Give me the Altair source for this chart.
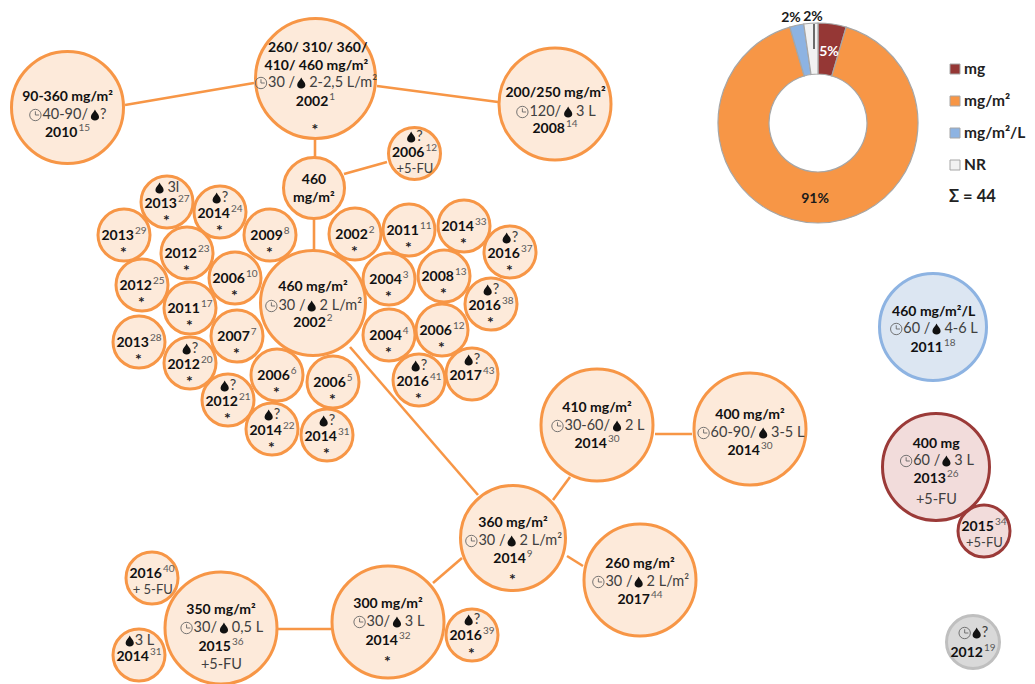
import altair as alt
import pandas as pd

FONT = "Lato"
ORANGE = ("#fdeada", "#f79646")
BLUE = ("#dce6f2", "#8db3e2")
RED = ("#f2dcdb", "#9b3a38")
GRAY = ("#d9d9d9", "#bfbfbf")
PALETTE = {"o": ORANGE, "b": BLUE, "r": RED, "g": GRAY}

# Large nodes: x, y, outer diameter, family, text lines, line heights
big_x = [67.5, 315.5, 555, 314, 414.5, 313, 597, 750, 513, 640, 221, 388, 152, 139, 472, 933, 936, 984, 973]
big_y = [107.5, 78.5, 104, 188, 153.5, 303, 425, 429, 538, 580, 628, 622, 578, 655, 635, 327, 467, 531, 642]
big_d = [115, 123, 115, 64, 55, 108, 115, 115, 108, 115, 115, 115, 55, 55, 55, 110, 110, 55, 56]
big_kind = ["o"] * 15 + ["b", "r", "r", "g"]
big_lines = [
    ["B 90-360 mg/m²", "D @40-90/ %?", "Y 2010 15"],
    ["B 260/ 310/ 360/", "B 410/ 460 mg/m²", "D @30 / % 2-2,5 L/m²", "Y 2002 1", "*"],
    ["B 200/250 mg/m²", "D @120/ % 3 L", "Y 2008 14"],
    ["B 460", "B mg/m²"],
    ["D %?", "Y 2006 12", "S +5-FU"],
    ["B 460 mg/m²", "D @30 / % 2 L/m²", "Y 2002 2"],
    ["B 410 mg/m²", "D @30-60/ % 2 L", "Y 2014 30"],
    ["B 400 mg/m²", "D @60-90/ % 3-5 L", "Y 2014 30"],
    ["B 360 mg/m²", "D @30 / % 2 L/m²", "Y 2014 9", "*"],
    ["B 260 mg/m²", "D @30 / % 2 L/m²", "Y 2017 44"],
    ["B 350 mg/m²", "D @30/ % 0,5 L", "Y 2015 36", "R +5-FU"],
    ["B 300 mg/m²", "D @30/ % 3 L", "Y 2014 32", "*"],
    ["Y 2016 40", "S + 5-FU"],
    ["D %3 L", "Y 2014 31"],
    ["D %?", "Y 2016 39", "*"],
    ["B 460 mg/m²/L", "D @60 / % 4-6 L", "Y 2011 18"],
    ["B 400 mg", "D @60 / % 3 L", "Y 2013 26", "R +5-FU"],
    ["Y 2015 34", "S +5-FU"],
    ["D @%?", "Y 2012 19"],
]
big_line_y = [
    [97, 115, 133], [48, 66, 83, 102, 127], [93, 112, 129], [180, 198], [137, 153, 169],
    [287, 306, 323], [408, 426, 444], [415, 433, 451], [523, 541, 559, 577], [564, 582, 600],
    [610, 628, 647, 665], [604, 622, 641, 659], [574, 590], [641, 657], [620, 636, 651],
    [312, 329, 348], [444, 461, 479, 500], [527, 543], [633, 653],
]

# Small study nodes of the dense cluster
small_x = [167, 220, 124, 270, 187, 235, 142, 190, 237, 139, 190, 228, 277, 333, 272, 327,
           355, 409, 464, 510, 389, 444, 491, 389, 442, 419, 472]
small_y = [202, 212, 235, 235, 253, 278, 285, 308, 336, 342, 363, 400, 375, 382, 429, 435,
           234, 230, 226, 252, 279, 276, 304, 335, 330, 380, 374]
small_year = [2013, 2014, 2013, 2009, 2012, 2006, 2012, 2011, 2007, 2013, 2012, 2012, 2006, 2006, 2014, 2014,
              2002, 2011, 2014, 2016, 2004, 2008, 2016, 2004, 2006, 2016, 2017]
small_ref = [27, 24, 29, 8, 23, 10, 25, 17, 7, 28, 20, 21, 6, 5, 22, 31,
             2, 11, 33, 37, 3, 13, 38, 4, 12, 41, 43]
small_top = ["% 3l", "%?", "", "", "", "", "", "", "", "", "%?", "%?", "", "", "%?", "%?",
             "", "", "", "%?", "", "", "%?", "", "", "%?", "%?"]
small_star = [1] * 26 + [0]

# Connecting lines
edge_x = [125, 377, 315, 344, 314, 350, 553, 655, 567, 433, 278]
edge_y = [105, 86, 140, 174, 219, 347, 500, 434, 556, 583, 629]
edge_x2 = [254, 498, 315, 387, 314, 478, 570, 692, 583, 462, 331]
edge_y2 = [83, 102, 157, 162, 250, 495, 477, 434, 566, 558, 629]

# Donut
donut_cat = ["mg", "mg/m²", "mg/m²/L", "NR"]
donut_n = [2, 40, 1, 1]
donut_fill = ["#953735", "#f79646", "#8db3e2", "#f2f2f2"]
donut_center = (818, 123)
pct_label = ["5%", "91%", "2%", "2%"]
pct_x = [829, 815, 791, 813]
pct_y = [52, 199, 18, 16.5]
pct_col = ["#ffffff", "#1a1a1a", "#1a1a1a", "#1a1a1a"]
legend_y = [69, 101, 133, 165]
sum_label = "Σ = 44"

W = {"0": .58, "1": .58, "2": .58, "3": .58, "4": .58, "5": .58, "6": .58, "7": .58, "8": .58, "9": .58,
     " ": .2, "/": .39, "-": .37, ",": .25, "m": .86, "g": .53, "L": .5, "²": .37, "?": .46, "+": .58,
     "F": .54, "U": .7, "l": .25}
def width(s, size):
    return sum(W.get(c, .55) for c in s) * size

BS, RS, SS, FS = 14, 14.5, 10, 13
CLOCK_W, DROP_W = 14, 10

bold, reg, small_reg, sup, stars, drops, clocks = [], [], [], [], [], [], []

def place(line, cx, y):
    if line == "*":
        stars.append(dict(x=cx - 4, y=y, t="*"))
    elif line[0] == "B":
        t = line[2:]
        bold.append(dict(x=cx - width(t, BS) / 2, y=y, t=t))
    elif line[0] == "R":
        t = line[2:]
        reg.append(dict(x=cx - width(t, RS) / 2, y=y, t=t))
    elif line[0] == "S":
        t = line[2:]
        small_reg.append(dict(x=cx - width(t, FS) / 2, y=y, t=t))
    elif line[0] == "Y":
        _, yr, rf = line.split()
        total = width(yr, BS) + width(rf, SS) + 1
        x0 = cx - total / 2
        bold.append(dict(x=x0, y=y, t=yr))
        sup.append(dict(x=x0 + width(yr, BS) + 1, y=y - 5, t=rf))
    else:
        t = line[2:]
        parts = []
        buf = ""
        for c in t:
            if c in "@%":
                if buf:
                    parts.append(buf)
                    buf = ""
                parts.append(c)
            else:
                buf += c
        if buf:
            parts.append(buf)
        seg = [CLOCK_W if p == "@" else DROP_W if p == "%" else width(p, RS) for p in parts]
        x = cx - sum(seg) / 2
        for p, w in zip(parts, seg):
            if p == "@":
                clocks.append(dict(x=x + w / 2, y=y))
            elif p == "%":
                drops.append(dict(x=x + w / 2, y=y))
            else:
                lead = len(p) - len(p.lstrip(" "))
                reg.append(dict(x=x + width(" " * lead, RS), y=y, t=p.strip()))
            x += w

nodes = []
for x, y, d, k, lines, ys in zip(big_x, big_y, big_d, big_kind, big_lines, big_line_y):
    nodes.append(dict(x=x, y=y, size=(d - 3) ** 2, fill=PALETTE[k][0], stroke=PALETTE[k][1]))
    for ln, ly in zip(lines, ys):
        place(ln, x, ly)
for x, y, yr, rf, top, st in zip(small_x, small_y, small_year, small_ref, small_top, small_star):
    nodes.append(dict(x=x, y=y, size=52 ** 2, fill=ORANGE[0], stroke=ORANGE[1]))
    if top:
        place("D " + top, x, y - 14)
        place(f"Y {yr} {rf}", x, y + 2)
        if st:
            place("*", x, y + 16)
    else:
        place(f"Y {yr} {rf}", x, y + 1)
        if st:
            place("*", x, y + 15)

X = alt.X("x:Q", scale=alt.Scale(domain=[8, 1027], nice=False, zero=False), axis=None)
Y = alt.Y("y:Q", scale=alt.Scale(domain=[684, 8], nice=False, zero=False), axis=None)

def frame(rows):
    return alt.Chart(pd.DataFrame(rows))

edges = pd.DataFrame(dict(x=edge_x, y=edge_y, x2=edge_x2, y2=edge_y2))
edge_layer = alt.Chart(edges).mark_rule(stroke="#f79646", strokeWidth=2.6).encode(
    x=X, y=Y, x2="x2:Q", y2="y2:Q")

node_layer = frame(nodes).mark_circle(opacity=1, strokeWidth=3).encode(
    x=X, y=Y,
    size=alt.Size("size:Q", scale=None),
    fill=alt.Fill("fill:N", scale=None),
    stroke=alt.Stroke("stroke:N", scale=None),
)

def text_layer(rows, size, weight, color, dy=0):
    return frame(rows).mark_text(align="left", baseline="middle", font=FONT, fontSize=size,
                                 fontWeight=weight, color=color, dy=dy).encode(x=X, y=Y, text="t:N")

DROP_PATH = "M0,-1C0.2,-0.5 0.75,-0.1 0.75,0.35A0.75,0.65 0 1 1 -0.75,0.35C-0.75,-0.1 -0.2,-0.5 0,-1Z"
CLOCK_PATH = "M-1,0A1,1 0 1 1 1,0A1,1 0 1 1 -1,0ZM0,-0.65L0,0L0.65,0"

drop_layer = frame(drops).mark_point(shape=DROP_PATH, size=120, filled=True, color="#111111", opacity=1).encode(x=X, y=Y)
clock_layer = frame(clocks).mark_point(shape=CLOCK_PATH, size=130, filled=False, stroke="#666666",
                                       strokeWidth=0.9, opacity=1).encode(x=X, y=Y)

donut = pd.DataFrame(dict(cat=donut_cat, n=donut_n, fill=donut_fill, order=range(4),
                          x=donut_center[0], y=donut_center[1]))
donut_layer = alt.Chart(donut).mark_arc(innerRadius=49, outerRadius=100, stroke="#a6a6a6", strokeWidth=1.2).encode(
    x=X, y=Y,
    theta=alt.Theta("n:Q", stack=True),
    order=alt.Order("order:Q"),
    fill=alt.Fill("fill:N", scale=None),
)
leader = pd.DataFrame(dict(x=[814], y=[24], x2=[814], y2=[49]))
leader_layer = alt.Chart(leader).mark_rule(stroke="#111111", strokeWidth=1.2).encode(x=X, y=Y, x2="x2:Q", y2="y2:Q")

pct = pd.DataFrame(dict(x=pct_x, y=pct_y, t=pct_label, c=pct_col))
pct_layer = alt.Chart(pct).mark_text(font=FONT, fontSize=14, fontWeight="bold", baseline="middle").encode(
    x=X, y=Y, text="t:N", color=alt.Color("c:N", scale=None))

swatch = pd.DataFrame(dict(x=[955] * 4, y=legend_y, fill=donut_fill))
swatch_layer = alt.Chart(swatch).mark_square(size=100, opacity=1, stroke="#a6a6a6", strokeWidth=1).encode(
    x=X, y=Y, fill=alt.Fill("fill:N", scale=None))
leg_rows = [dict(x=964, y=yy, t=c) for yy, c in zip(legend_y, donut_cat)]
sum_rows = [dict(x=949, y=197, t=sum_label)]

chart = alt.layer(
    edge_layer,
    node_layer,
    text_layer(bold, BS, "bold", "#111111"),
    text_layer(reg, RS, "normal", "#404040"),
    text_layer(small_reg, FS, "normal", "#404040"),
    text_layer(sup, SS, "normal", "#595959"),
    text_layer(stars, 16, "bold", "#222222", dy=3),
    drop_layer,
    clock_layer,
    donut_layer,
    leader_layer,
    pct_layer,
    swatch_layer,
    text_layer(leg_rows, 15.5, "bold", "#222222"),
    text_layer(sum_rows, 16.5, "bold", "#222222"),
).properties(width=1019, height=676, padding=0, autosize=alt.AutoSizeParams(type="none")
).configure_view(stroke=None)

chart.save("out.html", embed_options={"renderer": "svg", "actions": False})
